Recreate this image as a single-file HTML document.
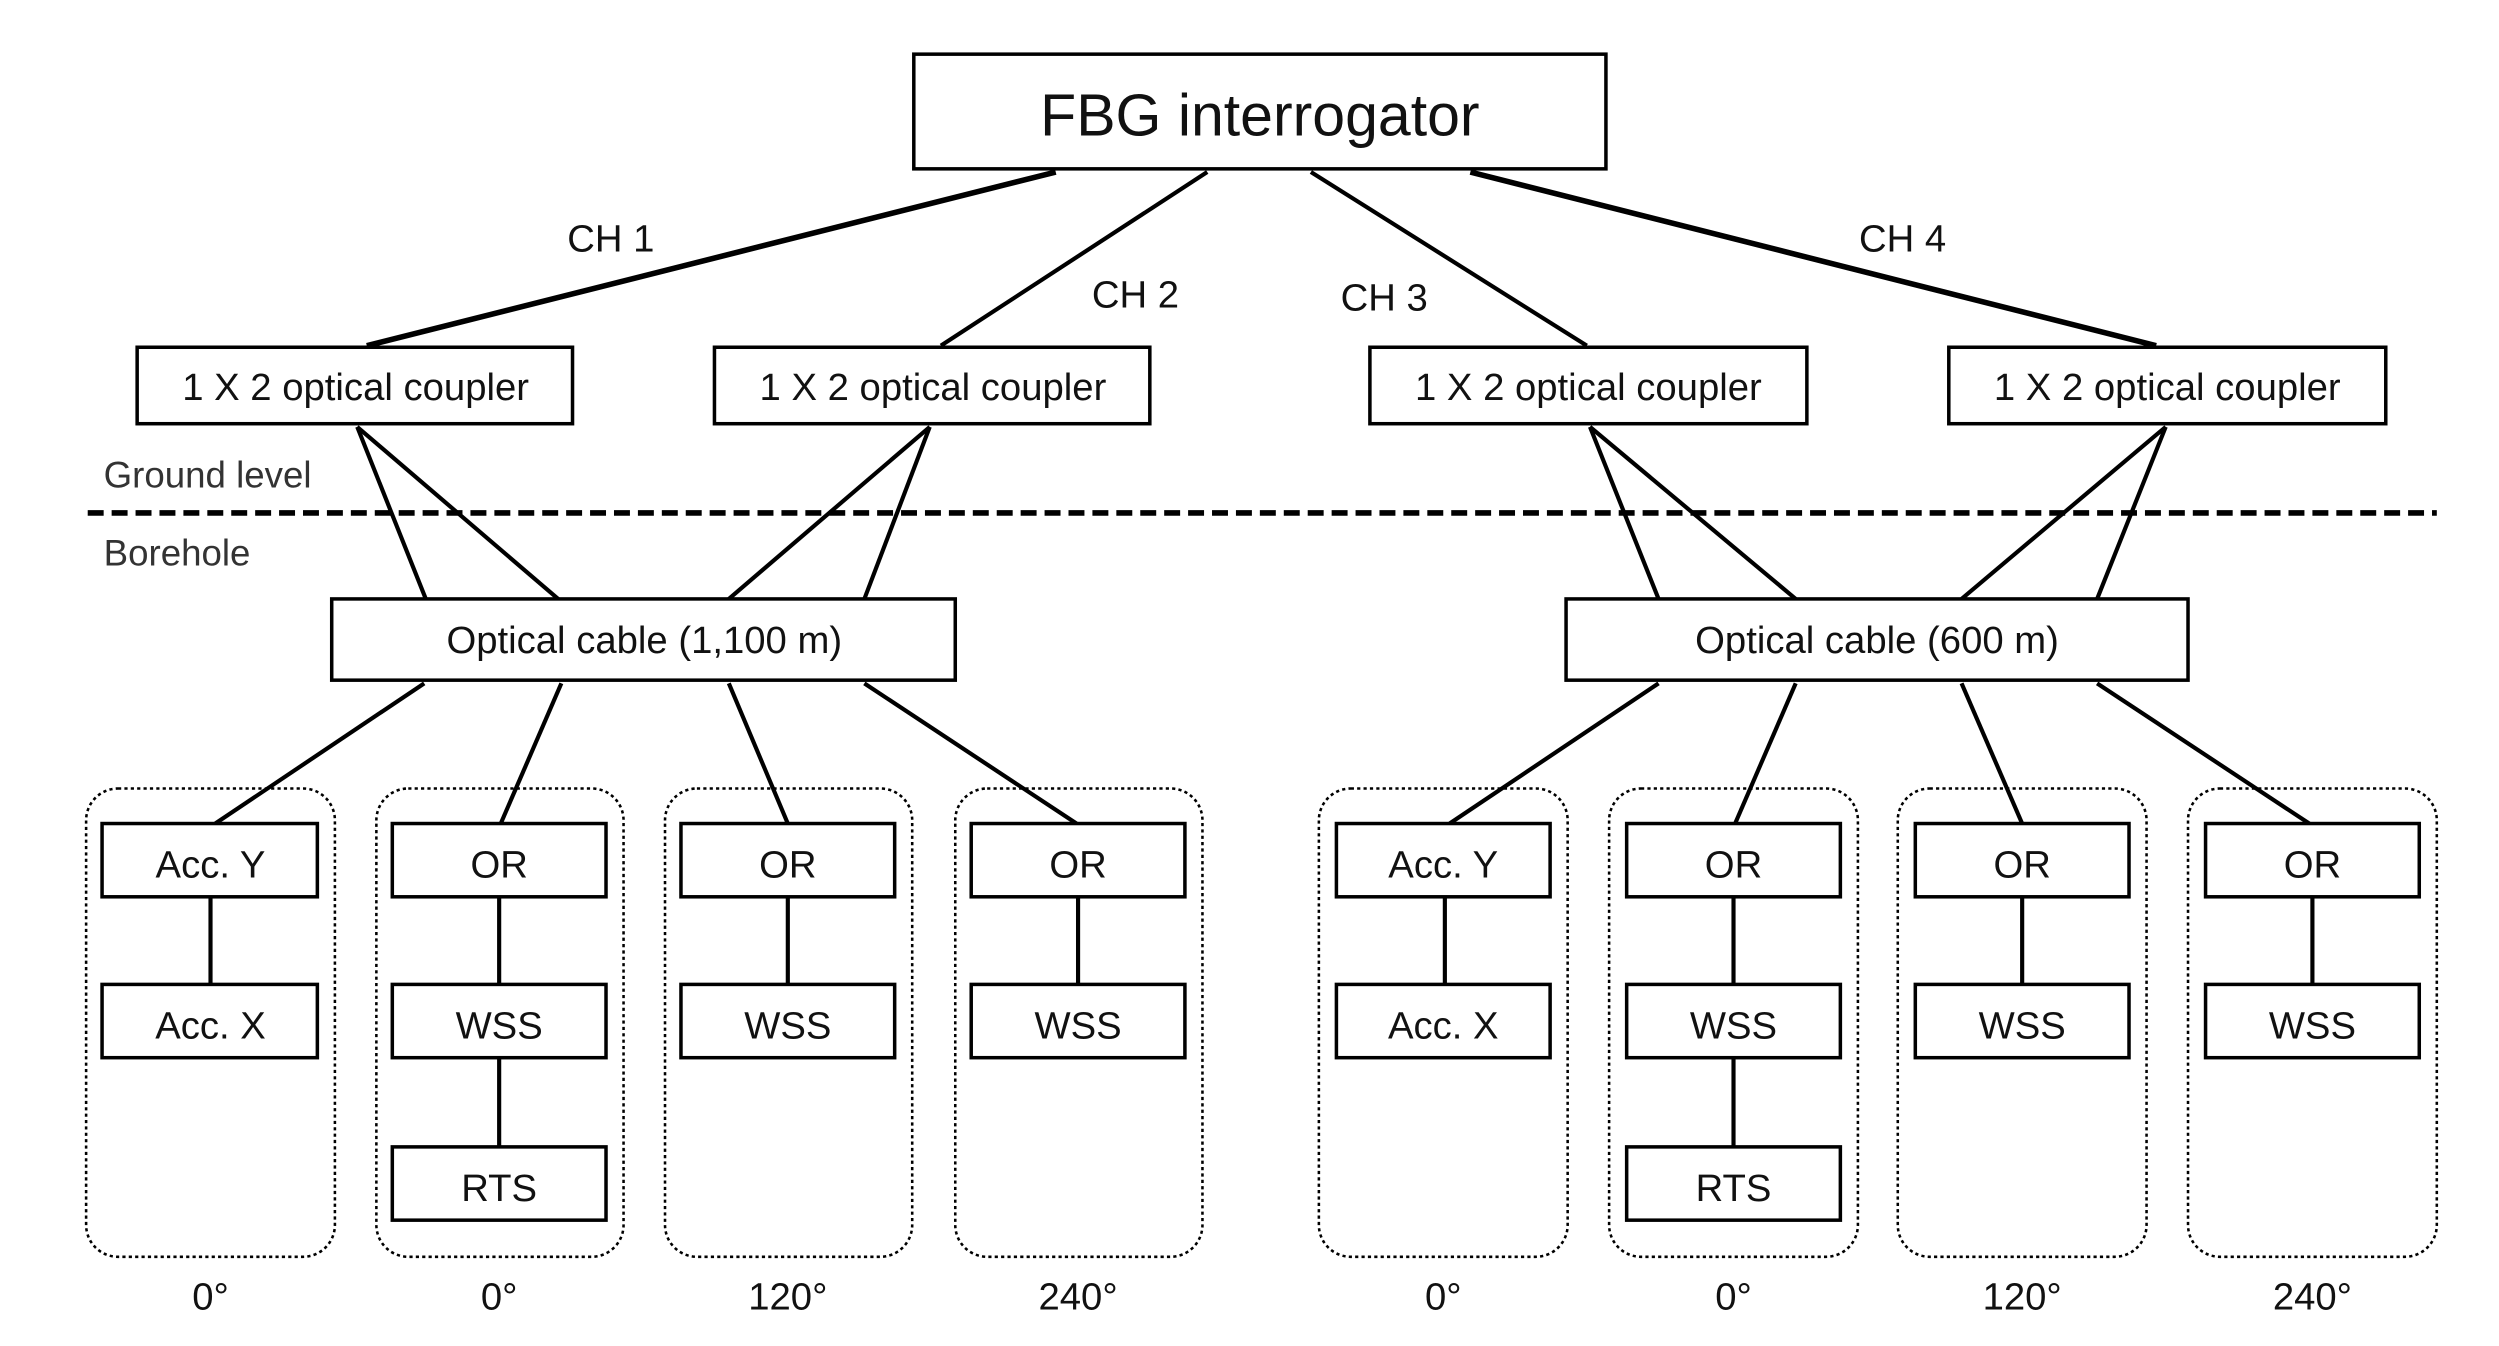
<!DOCTYPE html>
<html><head><meta charset="utf-8"><style>html,body{margin:0;padding:0;background:#fff}svg{display:block}</style></head>
<body>
<svg width="2499" height="1346" viewBox="0 0 1567 845" preserveAspectRatio="none" xmlns="http://www.w3.org/2000/svg" font-family="Liberation Sans, sans-serif" fill="none">
<g stroke="#000" stroke-width="2.2" fill="#fff">
<rect x="573" y="34" width="434" height="72"/>
<rect x="86" y="218" width="273" height="48"/>
<rect x="448" y="218" width="273" height="48"/>
<rect x="859" y="218" width="274" height="48"/>
<rect x="1222" y="218" width="274" height="48"/>
<rect x="208" y="376" width="391" height="51"/>
<rect x="982" y="376" width="390" height="51"/>
</g>
<g stroke="#000" stroke-width="1.6" stroke-dasharray="2,2">
<rect x="54" y="495" width="156" height="294" rx="20"/>
<rect x="236" y="495" width="155" height="294" rx="20"/>
<rect x="417" y="495" width="155" height="294" rx="20"/>
<rect x="599" y="495" width="155" height="294" rx="20"/>
<rect x="827" y="495" width="156" height="294" rx="20"/>
<rect x="1009" y="495" width="156" height="294" rx="20"/>
<rect x="1190" y="495" width="156" height="294" rx="20"/>
<rect x="1372" y="495" width="156" height="294" rx="20"/>
</g>
<line x1="55" y1="322" x2="1528" y2="322" stroke="#000" stroke-width="3.5" stroke-dasharray="10,5"/>
<g stroke="#000" stroke-width="3.5">
<line x1="662" y1="108" x2="230" y2="217"/>
<line x1="922" y1="108" x2="1352" y2="217"/>
</g>
<g stroke="#000" stroke-width="2.6">
<line x1="757" y1="108" x2="590" y2="217"/>
<line x1="822" y1="108" x2="995" y2="217"/>
<line x1="224" y1="268" x2="267" y2="376"/><line x1="224" y1="268" x2="350" y2="376"/>
<line x1="583" y1="268" x2="457" y2="376"/><line x1="583" y1="268" x2="542" y2="376"/>
<line x1="997" y1="268" x2="1040" y2="376"/><line x1="997" y1="268" x2="1126" y2="376"/>
<line x1="1358" y1="268" x2="1230" y2="376"/><line x1="1358" y1="268" x2="1315" y2="376"/>
<line x1="266" y1="429" x2="135" y2="517"/><line x1="352" y1="429" x2="314" y2="517"/>
<line x1="457" y1="429" x2="494" y2="517"/><line x1="542" y1="429" x2="675" y2="517"/>
<line x1="1040" y1="429" x2="909" y2="517"/><line x1="1126" y1="429" x2="1088" y2="517"/>
<line x1="1230" y1="429" x2="1268" y2="517"/><line x1="1315" y1="429" x2="1448" y2="517"/>
<line x1="132" y1="563" x2="132" y2="618"/><line x1="313" y1="563" x2="313" y2="618"/><line x1="313" y1="664" x2="313" y2="720"/>
<line x1="494" y1="563" x2="494" y2="618"/><line x1="676" y1="563" x2="676" y2="618"/>
<line x1="906" y1="563" x2="906" y2="618"/><line x1="1087" y1="563" x2="1087" y2="618"/><line x1="1087" y1="664" x2="1087" y2="720"/>
<line x1="1268" y1="563" x2="1268" y2="618"/><line x1="1450" y1="563" x2="1450" y2="618"/>
</g>
<g stroke="#000" stroke-width="2.2" fill="#fff">
<rect x="64" y="517" width="135" height="46"/><rect x="64" y="618" width="135" height="46"/>
<rect x="246" y="517" width="134" height="46"/><rect x="246" y="618" width="134" height="46"/><rect x="246" y="720" width="134" height="46"/>
<rect x="427" y="517" width="134" height="46"/><rect x="427" y="618" width="134" height="46"/>
<rect x="609" y="517" width="134" height="46"/><rect x="609" y="618" width="134" height="46"/>
<rect x="838" y="517" width="134" height="46"/><rect x="838" y="618" width="134" height="46"/>
<rect x="1020" y="517" width="134" height="46"/><rect x="1020" y="618" width="134" height="46"/><rect x="1020" y="720" width="134" height="46"/>
<rect x="1201" y="517" width="134" height="46"/><rect x="1201" y="618" width="134" height="46"/>
<rect x="1383" y="517" width="134" height="46"/><rect x="1383" y="618" width="134" height="46"/>
</g>
<g fill="#111" text-anchor="middle" font-size="24">
<text x="790" y="85" font-size="37">FBG interrogator</text>
<text x="383" y="158">CH 1</text><text x="712" y="193">CH 2</text><text x="868" y="195">CH 3</text><text x="1193" y="158">CH 4</text>
<text x="223" y="251">1 X 2 optical coupler</text><text x="585" y="251">1 X 2 optical coupler</text>
<text x="996" y="251">1 X 2 optical coupler</text><text x="1359" y="251">1 X 2 optical coupler</text>
<text x="404" y="410">Optical cable (1,100 m)</text><text x="1177" y="410">Optical cable (600 m)</text>
<text x="132" y="551">Acc. Y</text><text x="132" y="652">Acc. X</text>
<text x="313" y="551">OR</text><text x="313" y="652">WSS</text><text x="313" y="754">RTS</text>
<text x="494" y="551">OR</text><text x="494" y="652">WSS</text>
<text x="676" y="551">OR</text><text x="676" y="652">WSS</text>
<text x="905" y="551">Acc. Y</text><text x="905" y="652">Acc. X</text>
<text x="1087" y="551">OR</text><text x="1087" y="652">WSS</text><text x="1087" y="754">RTS</text>
<text x="1268" y="551">OR</text><text x="1268" y="652">WSS</text>
<text x="1450" y="551">OR</text><text x="1450" y="652">WSS</text>
<text x="132" y="822">0°</text><text x="313" y="822">0°</text><text x="494" y="822">120°</text><text x="676" y="822">240°</text>
<text x="905" y="822">0°</text><text x="1087" y="822">0°</text><text x="1268" y="822">120°</text><text x="1450" y="822">240°</text>
</g>
<g fill="#333" font-size="23">
<text x="65" y="306">Ground level</text>
<text x="65" y="355">Borehole</text>
</g>
</svg>
</body></html>
